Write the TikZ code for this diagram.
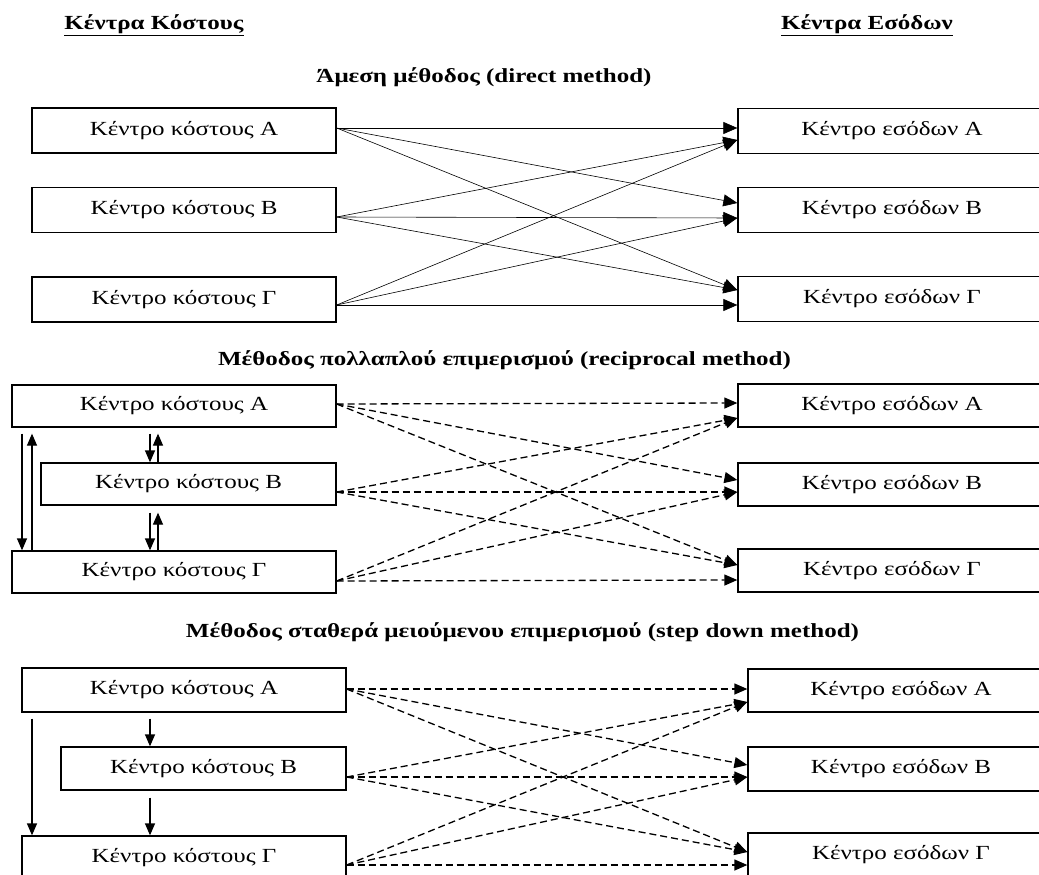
\documentclass[tikz,border=0pt]{standalone}
\usepackage{fontspec}
\setmainfont[FakeStretch=1.25]{Liberation Serif}
\usetikzlibrary{arrows.meta}

\tikzset{
  cbox/.style={draw, line width=1.3pt, inner sep=0pt, font=\fontsize{20}{24}\selectfont},
  flow/.style={line width=0.6pt, -{Triangle[length=14pt,width=12pt]}},
  dflow/.style={line width=1.3pt, dash pattern=on 7pt off 4pt, -{Triangle[length=13pt,width=11pt]}},
  varrow/.style={line width=1.3pt, -{Triangle[length=12pt,width=10pt]}},
  head/.style={font=\fontsize{20}{24}\selectfont\bfseries, anchor=base, inner sep=0pt},
  mtitle/.style={font=\fontsize{20}{24}\selectfont\bfseries, anchor=base, inner sep=0pt},
}

\begin{document}
\begin{tikzpicture}[x=1pt, y=-1pt]
\useasboundingbox (0,0) rectangle (1039,875);
\fill[white] (0,0) rectangle (1039,875);
\clip (0,0) rectangle (1039,875);

% headings
\node[head] (hcost) at (154,30) {\underline{Κέντρα Κόστους}};
\node[head] (hrev) at (867,30) {\underline{Κέντρα Εσόδων}};

% ---------- direct method ----------
\node[mtitle] (t1) at (484,83) {Άμεση μέθοδος (direct method)};
\node[cbox, minimum width=304pt, minimum height=45pt] (ca1) at (184,130.5) {Κέντρο κόστους Α};
\node[cbox, minimum width=304pt, minimum height=45pt] (cb1) at (184,210) {Κέντρο κόστους Β};
\node[cbox, minimum width=304pt, minimum height=45pt] (cg1) at (184,299.5) {Κέντρο κόστους Γ};
\node[cbox, minimum width=308pt, minimum height=45pt] (ra1) at (892,131) {Κέντρο εσόδων Α};
\node[cbox, minimum width=308pt, minimum height=45pt] (rb1) at (892,210) {Κέντρο εσόδων Β};
\node[cbox, minimum width=308pt, minimum height=45pt] (rg1) at (892,299) {Κέντρο εσόδων Γ};

\draw[flow] ([yshift=2.5pt]ca1.east) -- ([yshift=3pt]ra1.west);
\draw[flow] ([yshift=2.5pt]ca1.east) -- ([yshift=7pt]rb1.west);
\draw[flow] ([yshift=2.5pt]ca1.east) -- ([yshift=9pt]rg1.west);
\draw[flow] ([yshift=-7pt]cb1.east) -- ([yshift=-9pt]ra1.west);
\draw[flow] ([yshift=-7pt]cb1.east) -- ([yshift=-8pt]rb1.west);
\draw[flow] ([yshift=-7pt]cb1.east) -- ([yshift=9pt]rg1.west);
\draw[flow] ([yshift=-5.5pt]cg1.east) -- ([yshift=-9pt]ra1.west);
\draw[flow] ([yshift=-5.5pt]cg1.east) -- ([yshift=-8pt]rb1.west);
\draw[flow] ([yshift=-5.5pt]cg1.east) -- ([yshift=-6pt]rg1.west);

% ---------- reciprocal method ----------
\node[mtitle] (t2) at (504.5,365) {Μέθοδος πολλαπλού επιμερισμού (reciprocal method)};
\node[cbox, minimum width=324pt, minimum height=42pt] (ca2) at (174,406) {Κέντρο κόστους Α};
\node[cbox, minimum width=295pt, minimum height=42pt] (cb2) at (188.5,484) {Κέντρο κόστους Β};
\node[cbox, minimum width=324pt, minimum height=42pt] (cg2) at (174,572) {Κέντρο κόστους Γ};
\node[cbox, minimum width=308pt, minimum height=43pt] (ra2) at (892,405.5) {Κέντρο εσόδων Α};
\node[cbox, minimum width=308pt, minimum height=43pt] (rb2) at (892,484.5) {Κέντρο εσόδων Β};
\node[cbox, minimum width=308pt, minimum height=43pt] (rg2) at (892,570.5) {Κέντρο εσόδων Γ};

\coordinate (c22) at (22,0);
\coordinate (c32) at (32,0);
\coordinate (c150) at (150,0);
\coordinate (c158) at (158,0);

\draw[varrow, shorten <=6pt] (ca2.south -| c22) -- (cg2.north -| c22);
\draw[varrow, shorten >=6pt] (cg2.north -| c32) -- (ca2.south -| c32);
\draw[varrow, shorten <=6pt] (ca2.south -| c150) -- (cb2.north -| c150);
\draw[varrow, shorten >=6pt] (cb2.north -| c158) -- (ca2.south -| c158);
\draw[varrow, shorten <=7pt] (cb2.south -| c150) -- (cg2.north -| c150);
\draw[varrow, shorten >=7pt] (cg2.north -| c158) -- (cb2.south -| c158);

\draw[dflow] ([yshift=2pt]ca2.east) -- ([yshift=2.5pt]ra2.west);
\draw[dflow] ([yshift=2pt]ca2.east) -- ([yshift=4.5pt]rb2.west);
\draw[dflow] ([yshift=2pt]ca2.east) -- ([yshift=5.5pt]rg2.west);
\draw[dflow] ([yshift=-8pt]cb2.east) -- ([yshift=-12.5pt]ra2.west);
\draw[dflow] ([yshift=-8pt]cb2.east) -- ([yshift=-7.5pt]rb2.west);
\draw[dflow] ([yshift=-8pt]cb2.east) -- ([yshift=5.5pt]rg2.west);
\draw[dflow] ([yshift=-9pt]cg2.east) -- ([yshift=-12.5pt]ra2.west);
\draw[dflow] ([yshift=-9pt]cg2.east) -- ([yshift=-7.5pt]rb2.west);
\draw[dflow] ([yshift=-9pt]cg2.east) -- ([yshift=-9.5pt]rg2.west);

% ---------- step down method ----------
\node[mtitle] (t3) at (522.5,637) {Μέθοδος σταθερά μειούμενου επιμερισμού (step down method)};
\node[cbox, minimum width=324pt, minimum height=44pt] (ca3) at (184,690) {Κέντρο κόστους Α};
\node[cbox, minimum width=285pt, minimum height=43pt] (cb3) at (203.5,768.5) {Κέντρο κόστους Β};
\node[cbox, minimum width=324pt, minimum height=44pt] (cg3) at (184,858) {Κέντρο κόστους Γ};
\node[cbox, minimum width=306pt, minimum height=43pt] (ra3) at (901,690.5) {Κέντρο εσόδων Α};
\node[cbox, minimum width=306pt, minimum height=44pt] (rb3) at (901,769) {Κέντρο εσόδων Β};
\node[cbox, minimum width=306pt, minimum height=44pt] (rg3) at (901,855) {Κέντρο εσόδων Γ};

\draw[varrow, shorten <=6pt] (ca3.south -| c32) -- (cg3.north -| c32);
\draw[varrow, shorten <=6pt] (ca3.south -| c150) -- (cb3.north -| c150);
\draw[varrow, shorten <=7pt] (cb3.south -| c150) -- (cg3.north -| c150);

\draw[dflow] ([yshift=1pt]ca3.east) -- ([yshift=1.5pt]ra3.west);
\draw[dflow] ([yshift=1pt]ca3.east) -- ([yshift=4pt]rb3.west);
\draw[dflow] ([yshift=1pt]ca3.east) -- ([yshift=3pt]rg3.west);
\draw[dflow] ([yshift=-8.5pt]cb3.east) -- ([yshift=-11.5pt]ra3.west);
\draw[dflow] ([yshift=-8.5pt]cb3.east) -- ([yshift=-8pt]rb3.west);
\draw[dflow] ([yshift=-8.5pt]cb3.east) -- ([yshift=3pt]rg3.west);
\draw[dflow] ([yshift=-7pt]cg3.east) -- ([yshift=-11.5pt]ra3.west);
\draw[dflow] ([yshift=-7pt]cg3.east) -- ([yshift=-8pt]rb3.west);
\draw[dflow] ([yshift=-7pt]cg3.east) -- ([yshift=-10pt]rg3.west);
\end{tikzpicture}
\end{document}
